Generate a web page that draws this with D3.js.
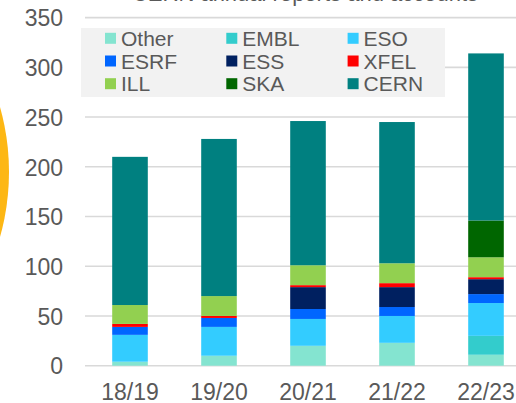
<!DOCTYPE html>
<html>
<head>
<meta charset="utf-8">
<script src="https://cdn.jsdelivr.net/npm/d3@7"></script>
<style>
  body { margin: 0; background: #fff; overflow: hidden; }
  svg { display: block; font-family: "Liberation Sans", Arial, sans-serif; }
  .tick text { fill: #595959; }
</style>
</head>
<body>
<svg id="chart" width="516" height="403"></svg>
<script>
// data
var years = ['18/19', '19/20', '20/21', '21/22', '22/23'];
var series = ['Other', 'EMBL', 'ESO', 'ESRF', 'ESS', 'XFEL', 'ILL', 'SKA', 'CERN'];
var colors = ['#84e4d0', '#33cccc', '#33ccff', '#0066ff', '#002060', '#ff0000', '#92d050', '#006600', '#008080'];
var other = [4, 10, 20, 23, 11];
var embl = [0, 0, 0, 0, 19];
var eso = [27, 29, 27, 27, 33];
var esrf = [8, 9, 10, 9, 9];
var ess = [0, 0, 22, 20, 15];
var xfel = [3, 2, 2, 4, 2];
var ill = [19, 20, 20, 20, 20];
var ska = [0, 0, 0, 0, 37];
var cern = [149, 158, 145, 142, 168];
var yTicks = [0, 50, 100, 150, 200, 250, 300, 350];

var values = [other, embl, eso, esrf, ess, xfel, ill, ska, cern];
var rows = years.map(function(y, i) {
  var r = { year: y };
  series.forEach(function(s, j) { r[s] = values[j][i]; });
  return r;
});

var svg = d3.select('#chart');

// yellow disc peeking in on the left edge
svg.append('circle')
  .attr('cx', -230).attr('cy', 172).attr('r', 239)
  .attr('fill', '#fdb714');

// title, mostly cut off at the top
svg.append('text')
  .attr('x', 305).attr('y', 1)
  .attr('text-anchor', 'middle')
  .attr('font-size', 22)
  .attr('fill', '#595959')
  .text('CERN annual reports and accounts');

var x = d3.scaleBand().domain(years).range([85.5, 530.5]).paddingInner(0.6).paddingOuter(0.3);
var y = d3.scaleLinear().domain([0, 350]).range([365.7, 17.6]);

// gridlines
svg.append('g').selectAll('line').data(yTicks).join('line')
  .attr('x1', 85).attr('x2', 516)
  .attr('y1', function(d) { return y(d); })
  .attr('y2', function(d) { return y(d); })
  .attr('stroke', '#d9d9d9').attr('stroke-width', 1.6);

// y axis labels
var yAxis = svg.append('g').attr('transform', 'translate(63,0)')
  .call(d3.axisLeft(y).tickValues(yTicks).tickSize(0).tickPadding(0));
yAxis.select('.domain').remove();
yAxis.selectAll('text').attr('font-size', 23).attr('font-family', null).attr('dy', '0.36em');

// x axis labels
var xAxis = svg.append('g').attr('transform', 'translate(0,383)')
  .call(d3.axisBottom(x).tickSize(0).tickPadding(0));
xAxis.select('.domain').remove();
xAxis.selectAll('text').attr('font-size', 23).attr('font-family', null).attr('dy', '0.74em');

// stacked bars
var stack = d3.stack().keys(series)(rows);
svg.append('g').selectAll('g').data(stack).join('g')
  .attr('fill', function(d, i) { return colors[i]; })
  .selectAll('rect').data(function(d) { return d; }).join('rect')
  .attr('x', function(d) { return x(d.data.year); })
  .attr('width', x.bandwidth())
  .attr('y', function(d) { return y(d[1]); })
  .attr('height', function(d) { return y(d[0]) - y(d[1]); });

// legend
var legend = svg.append('g');
legend.append('rect')
  .attr('x', 81).attr('y', 28).attr('width', 364).attr('height', 69)
  .attr('fill', '#f2f2f2');
var item = legend.selectAll('g.item').data(series).join('g')
  .attr('class', 'item')
  .attr('transform', function(d, i) {
    return 'translate(' + (105 + (i % 3) * 121.3) + ',' + (38.3 + Math.floor(i / 3) * 22.7) + ')';
  });
item.append('rect')
  .attr('x', 0).attr('y', -5.5).attr('width', 11).attr('height', 11)
  .attr('fill', function(d, i) { return colors[i]; });
item.append('text')
  .attr('x', 16).attr('dy', '0.36em')
  .attr('font-size', 21).attr('fill', '#595959')
  .text(function(d) { return d; });
</script>
</body>
</html>
